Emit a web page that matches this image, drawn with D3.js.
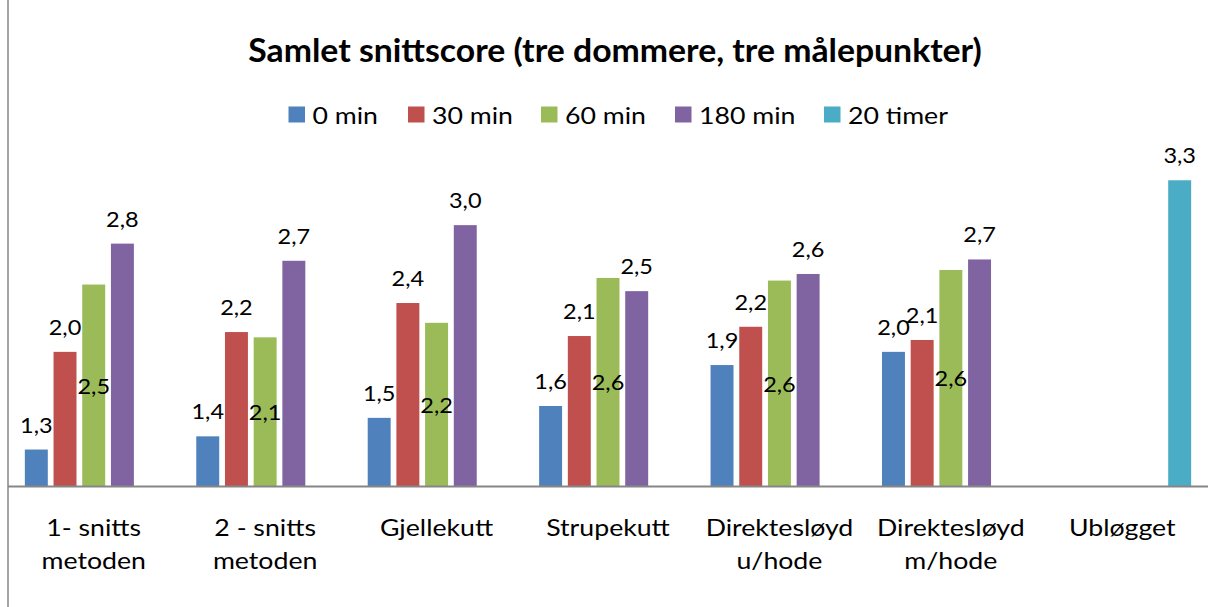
<!DOCTYPE html>
<html>
<head>
<meta charset="utf-8">
<script src="https://cdn.jsdelivr.net/npm/d3@7"></script>
<style>
  body { margin: 0; background: #fff; }
  svg text { font-family: Lato, "Open Sans", sans-serif; fill: #000; }
</style>
</head>
<body>
<svg id="chart" width="1214" height="607"></svg>
<script>
// data
const categories = ['1- snitts\nmetoden', '2 - snitts\nmetoden', 'Gjellekutt', 'Strupekutt',
    'Direktesløyd\nu/hode', 'Direktesløyd\nm/hode', 'Ubløgget'];
const seriesNames = ['0 min', '30 min', '60 min', '180 min', '20 timer'];
const min0 = [1.28, 1.38, 1.52, 1.61, 1.92, 2.02, null];
const min30 = [2.02, 2.17, 2.39, 2.14, 2.21, 2.11, null];
const min60 = [2.53, 2.13, 2.24, 2.58, 2.56, 2.64, null];
const min180 = [2.84, 2.71, 2.98, 2.48, 2.61, 2.72, null];
const timer20 = [null, null, null, null, null, null, 3.32];
const colors = ['#4F81BD', '#C0504D', '#9BBB59', '#8064A2', '#4BACC6'];
const yDomain = [1, 3.5];

const series = [min0, min30, min60, min180, timer20];
const svg = d3.select('#chart');
const H = 607;
const left = 8, right = 1208, base = 486.5;
const stretch = 1.16; // the source picture is wider than its fonts

const x0 = d3.scaleBand().domain(categories).range([left, right]).paddingInner(0.163).paddingOuter(0.0815);
const x1 = d3.scaleBand().domain(seriesNames).range([0, x0.bandwidth()]).paddingInner(0.2).paddingOuter(0.1);
const y = d3.scaleLinear().domain(yDomain).range([base, 156.5]);
const fmt = v => d3.format('.1f')(v).replace('.', ',');

function label(parent, x, y, size, sx) {
    return parent.append('text')
        .attr('transform', `translate(${x},${y}) scale(${sx},1)`)
        .style('font-size', size + 'px');
}

// title
label(svg, 615, 62, 32, 1.055)
    .attr('text-anchor', 'middle')
    .style('font-weight', 'bold')
    .text('Samlet snittscore (tre dommere, tre målepunkter)');

// legend
const legendX = [288.5, 408, 541, 675, 824];
const legend = svg.append('g');
seriesNames.forEach((name, i) => {
    legend.append('rect')
        .attr('x', legendX[i]).attr('y', 106.5)
        .attr('width', 16.5).attr('height', 16)
        .attr('fill', colors[i]);
    label(legend, legendX[i] + 24, 115, 23, stretch)
        .attr('dominant-baseline', 'central')
        .text(name);
});

// bars
const groups = svg.append('g').selectAll('g')
    .data(categories)
    .join('g')
    .attr('transform', d => `translate(${x0(d)},0)`);

series.forEach((vals, si) => {
    groups.filter((d, ci) => vals[ci] != null)
        .append('rect')
        .attr('x', x1(seriesNames[si]))
        .attr('width', x1.bandwidth())
        .attr('y', d => y(vals[categories.indexOf(d)]))
        .attr('height', d => base - y(vals[categories.indexOf(d)]))
        .attr('fill', colors[si]);
});

// data labels (60 min centred inside the bar, others above)
series.forEach((vals, si) => {
    groups.filter((d, ci) => vals[ci] != null).each(function (d) {
        const v = vals[categories.indexOf(d)];
        const ly = si === 2 ? (y(v) + base) / 2 : y(v) - 25;
        label(d3.select(this), x1(seriesNames[si]) + x1.bandwidth() / 2, ly, 21, 1.12)
            .attr('text-anchor', 'middle')
            .attr('dominant-baseline', 'central')
            .text(fmt(v));
    });
});

// axes lines
svg.append('line')
    .attr('x1', left).attr('x2', left).attr('y1', 0).attr('y2', H)
    .attr('stroke', '#868686').attr('stroke-width', 1.5);
svg.append('line')
    .attr('x1', left).attr('x2', right).attr('y1', base).attr('y2', base)
    .attr('stroke', '#868686').attr('stroke-width', 2);

// category labels
categories.forEach(c => {
    const cx = x0(c) + x0.bandwidth() / 2;
    const t = label(svg, cx, 527, 23, stretch).attr('text-anchor', 'middle');
    c.split('\n').forEach((line, i) => {
        t.append('tspan')
            .attr('x', 0)
            .attr('y', i * 33)
            .attr('dominant-baseline', 'central')
            .text(line);
    });
});
</script>
</body>
</html>
